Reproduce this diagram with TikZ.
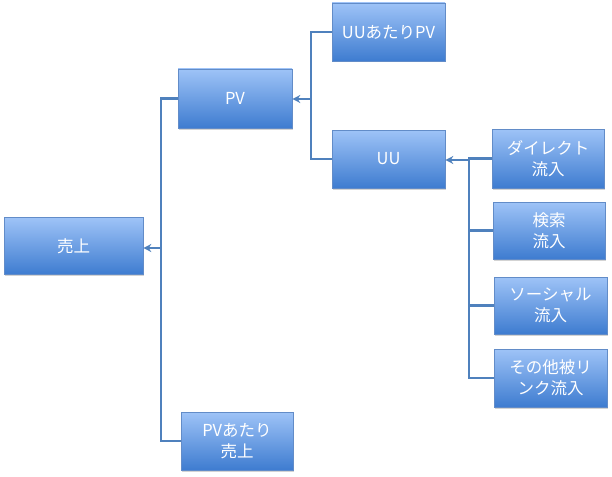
\documentclass[tikz,border=0pt]{standalone}
\usepackage{fontspec}
\setmainfont{Noto Sans CJK JP}
\usetikzlibrary{arrows.meta,shadows}
\definecolor{boxtop}{RGB}{158,195,247}
\definecolor{boxbot}{RGB}{62,124,208}
\definecolor{boxline}{RGB}{98,140,200}
\definecolor{linkc}{RGB}{79,129,189}
\tikzset{
  box/.style={rectangle, draw=boxline, line width=0.6pt, top color=boxtop, bottom color=boxbot,
    text=white, font=\fontsize{16.5}{21}\selectfont, align=center, inner sep=0pt,
    drop shadow={opacity=0.35, shadow xshift=1.2pt, shadow yshift=-1.5pt}},
  link/.style={draw=linkc, line width=2.3pt},
  arr/.style={link, -{Stealth[length=8pt,width=8pt]}}
}
\begin{document}
\begin{tikzpicture}[x=1pt,y=-1pt]
\useasboundingbox (0,0) rectangle (612,476);
\node[box, minimum width=139pt, minimum height=57pt] (sales) at (73.5,246) {売上};
\node[box, minimum width=114pt, minimum height=59pt] (pv) at (235,98.5) {PV};
\node[box, minimum width=113pt, minimum height=58pt] (uupv) at (388.5,32) {UUあたりPV};
\node[box, minimum width=113pt, minimum height=58pt] (uu) at (388.5,159) {UU};
\node[box, minimum width=112pt, minimum height=58pt] (pvsales) at (237,441) {PVあたり\\売上};
\node[box, minimum width=112pt, minimum height=59pt] (direct) at (548,158.5) {ダイレクト\\流入};
\node[box, minimum width=112pt, minimum height=57pt] (search) at (549,230.5) {検索\\流入};
\node[box, minimum width=113pt, minimum height=57pt] (social) at (550.5,305.5) {ソーシャル\\流入};
\node[box, minimum width=113pt, minimum height=58pt] (other) at (550.5,378) {その他被リ\\ンク流入};
\coordinate (j1) at (161,248);
\coordinate (j2) at (311,99);
\coordinate (j3) at (469,160);
\draw[link] (pv.west) -| (j1);
\draw[link] (pvsales.west) -| (j1);
\draw[arr] (j1) -- (sales.east |- j1);
\draw[link] (uupv.west) -| (j2);
\draw[link] (uu.west) -| (j2);
\draw[arr] (j2) -- (pv.east |- j2);
\draw[link] (direct.west) -| (j3);
\draw[link] (search.west) -| (j3);
\draw[link] (social.west) -| (j3);
\draw[link] (other.west) -| (j3);
\draw[arr] (j3) -- (uu.east |- j3);
\end{tikzpicture}
\end{document}
